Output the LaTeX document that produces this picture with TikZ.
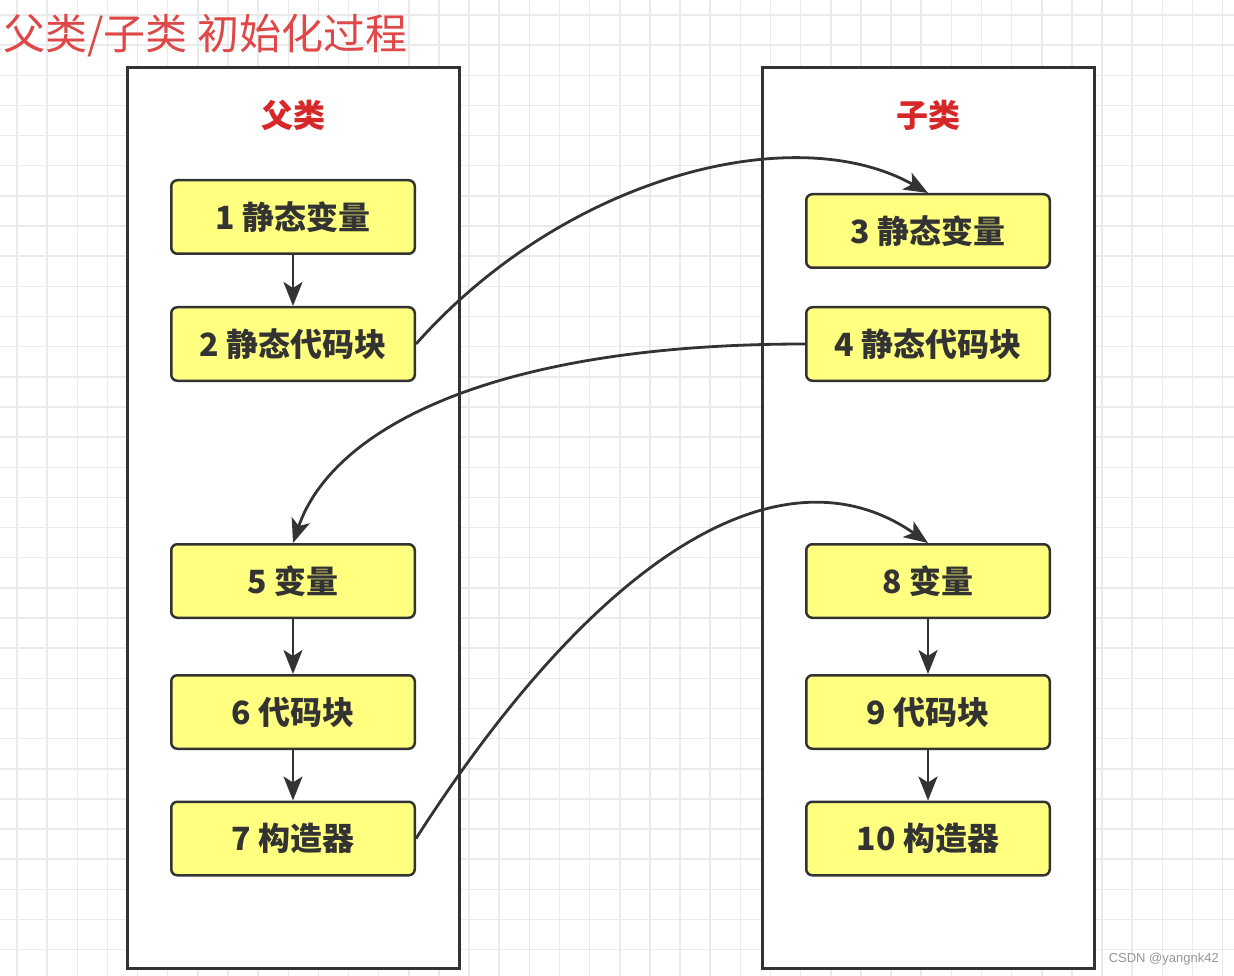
\documentclass[tikz,border=0pt]{standalone}
\usepackage{fontspec}
\setmainfont{Noto Sans CJK SC}
\newfontfamily\wmfont{Liberation Sans}
\usetikzlibrary{arrows.meta}
\definecolor{gridc}{RGB}{234,234,234}
\definecolor{linec}{RGB}{51,51,51}
\definecolor{boxfill}{RGB}{255,255,128}
\definecolor{titlered}{RGB}{222,72,72}
\definecolor{headred}{RGB}{214,40,40}
\definecolor{wmgray}{RGB}{150,150,150}
\begin{document}
\begin{tikzpicture}[x=1pt,y=-1pt,
  container/.style={draw=linec, line width=3pt, fill=white, minimum width=332pt, minimum height=901pt, inner sep=0pt},
  stepbox/.style={draw=linec, line width=2.5pt, fill=boxfill, rounded corners=6pt, minimum width=243.5pt, minimum height=73.5pt, inner sep=0pt, font=\fontsize{32}{38}\selectfont\bfseries, text=linec},
  header/.style={font=\fontsize{32}{38}\selectfont\bfseries, text=headred, inner sep=0pt},
  conn/.style={draw=linec, line width=2.8pt, -{Stealth[length=24pt,width=19pt,inset=6pt]}},
  gridline/.style={draw=gridc, line width=1.5pt}]
\useasboundingbox (0,0) rectangle (1234,976);
\fill[white] (0,0) rectangle (1234,976);
\foreach \i in {0,...,40} { \draw[gridline] ({17+30.14*\i},0) -- ({17+30.14*\i},976); }
\foreach \j in {0,...,31} { \draw[gridline] (0,{15+30.15*\j}) -- (1234,{15+30.15*\j}); }

\node[anchor=west, text=titlered, font=\fontsize{42}{50}\selectfont, inner sep=0pt] (title) at (3,36) {父类/子类 初始化过程};

\node[container] (left) at (293.5,518) {};
\node[container] (right) at (928.5,518) {};

\node[header] (hl) at (293.5,115) {父类};
\node[header] (hr) at (928.5,115) {子类};

\node[stepbox] (b1) at (293,217) {1 静态变量};
\node[stepbox] (b2) at (293,344) {2 静态代码块};
\node[stepbox] (b5) at (293,581) {5 变量};
\node[stepbox] (b6) at (293,712) {6 代码块};
\node[stepbox] (b7) at (293,838.5) {7 构造器};

\node[stepbox] (b3) at (928,231) {3 静态变量};
\node[stepbox] (b4) at (928,344) {4 静态代码块};
\node[stepbox] (b8) at (928,581) {8 变量};
\node[stepbox] (b9) at (928,712) {9 代码块};
\node[stepbox] (b10) at (928,838.5) {10 构造器};

\draw[conn] (b1) -- (b2);
\draw[conn] (b5) -- (b6);
\draw[conn] (b6) -- (b7);
\draw[conn] (b8) -- (b9);
\draw[conn] (b9) -- (b10);

\draw[conn] (b2.east) .. controls (565,176) and (795,118) .. (b3.north);
\draw[conn] (b4.west) .. controls (485,344) and (331,432) .. (b5.north);
\draw[conn] (b7.east) .. controls (605,544) and (787,445) .. (b8.north);

\node[anchor=east, text=wmgray, font=\wmfont\fontsize{13}{15}\selectfont, inner sep=0pt] (wm) at (1219,959) {CSDN @yangnk42};
\end{tikzpicture}
\end{document}
